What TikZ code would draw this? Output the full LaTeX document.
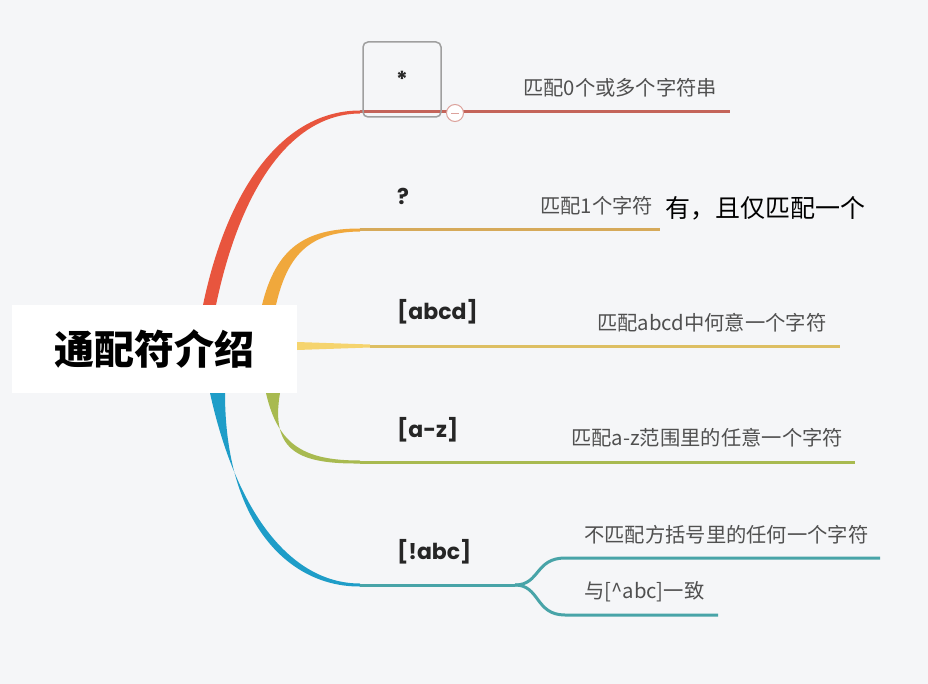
\documentclass[tikz,border=0pt]{standalone}
\usepackage{fontspec}
\setmainfont{Noto Sans CJK SC}
\newfontfamily\latinfont{Poppins}
\usetikzlibrary{positioning}

\definecolor{bgry}{RGB}{245, 246, 248}
\definecolor{mred}{RGB}{232, 85, 62}
\definecolor{mredl}{RGB}{196, 100, 90}
\definecolor{mora}{RGB}{240, 168, 60}
\definecolor{moral}{RGB}{214, 170, 90}
\definecolor{myel}{RGB}{245, 212, 110}
\definecolor{moli}{RGB}{168, 186, 80}
\definecolor{mblu}{RGB}{30, 157, 200}
\definecolor{mtea}{RGB}{72, 164, 168}
\definecolor{mtxt}{RGB}{80, 80, 80}

\tikzset{
  topic/.style={font=\latinfont\bfseries\fontsize{22}{24}\selectfont, text=black!85, anchor=west, inner sep=0pt},
  note/.style={font=\fontsize{20.3}{22}\selectfont, text=mtxt, anchor=west, inner sep=0pt},
  twig/.style={line width=3pt},
}

\begin{document}
\begin{tikzpicture}[x=1pt, y=-1pt]

	% --- background ---
	\fill[bgry] (0,0) rectangle (928,684);

	% --- root ---
	\node[fill=white, minimum width=285pt, minimum height=88pt] (root) at (154.5,349)
		{\fontsize{40}{44}\selectfont\bfseries 通配符介绍};

	% --- branch ends ---
	\coordinate (r1) at (360,112);  \coordinate (r2) at (730,112);
	\coordinate (o1) at (360,230);  \coordinate (o2) at (660,230);
	\coordinate (y1) at (370,346);  \coordinate (y2) at (840,346);
	\coordinate (g1) at (360,462);  \coordinate (g2) at (855,462);
	\coordinate (b1) at (360,585);  \coordinate (b2) at (515,585);
	\coordinate (t1) at (565,558);  \coordinate (t2) at (880,558);
	\coordinate (t3) at (565,615);  \coordinate (t4) at (718,615);

	% red
	\fill[mred] (203,305) .. controls (228,185) and (285,110.5) .. (360,110.5)
		-- (360,113.5) .. controls (290,114) and (240,190) .. (216,305) -- cycle;
	\draw[twig, mredl] (r1) -- (r2);

	% orange
	\fill[mora] (262,305) .. controls (276,248) and (305,228.5) .. (360,228.5)
		-- (360,231.5) .. controls (312,232) and (288,252) .. (276,305) -- cycle;
	\draw[twig, moral] (o1) -- (o2);

	% yellow
	\fill[myel] (root.east |- 0,342) -- (y1 |- 0,344.5) -- (y1 |- 0,347.5) -- (root.east |- 0,350) -- cycle;
	\draw[twig, myel!90!black] (y1) -- (y2);

	% olive
	\fill[moli] (266,393) .. controls (278,446) and (305,460.5) .. (360,460.5)
		-- (360,463.5) .. controls (300,464) and (270,452) .. (280,393) -- cycle;
	\draw[twig, moli] (g1) -- (g2);

	% blue
	\fill[mblu] (210,393) .. controls (238,520) and (295,583.5) .. (360,583.5)
		-- (360,586.5) .. controls (290,587) and (225,525) .. (225,393) -- cycle;
	\draw[twig, mtea] (b1) -- (b2);
	\draw[twig, mtea] (b2) .. controls (540,585) and (535,558) .. (t1) -- (t2);
	\draw[twig, mtea] (b2) .. controls (540,585) and (535,615) .. (t3) -- (t4);

	% --- topics ---
	\node[draw=gray!75, line width=1.5pt, rounded corners=5pt, minimum width=78pt, minimum height=75pt]
		(star) at (402,79.5) {};
	\node[topic] at (star.center) [anchor=center] {*};
	\node[circle, draw=mredl!60, fill=white, line width=1pt, minimum size=17pt, inner sep=0pt] (fold) at (455,113) {};
	\draw[mredl!60, line width=0.8pt] ([xshift=-4pt]fold.center) -- ([xshift=4pt]fold.center);

	\node[topic] (qm) at (397,196) {?};
	\node[topic] (abcd) at (397,312) {[abcd]};
	\node[topic] (az) at (397,430) {[a-z]};
	\node[topic] (nabc) at (397,552) {[!abc]};

	% --- notes ---
	\node[note] (n1) at (523,88) {匹配0个或多个字符串};
	\node[note] (n2) at (540,206) {匹配1个字符};
	\node[note, font=\fontsize{25}{27}\selectfont, text=black] (n2b) at (665,208) {有，且仅匹配一个};
	\node[note] (n3) at (597,323) {匹配abcd中何意一个字符};
	\node[note] (n4) at (571,438) {匹配a-z范围里的任意一个字符};
	\node[note] (n5) at (584,535) {不匹配方括号里的任何一个字符};
	\node[note] (n6) at (584,592) {与[\textasciicircum abc]一致};

\end{tikzpicture}
\end{document}
